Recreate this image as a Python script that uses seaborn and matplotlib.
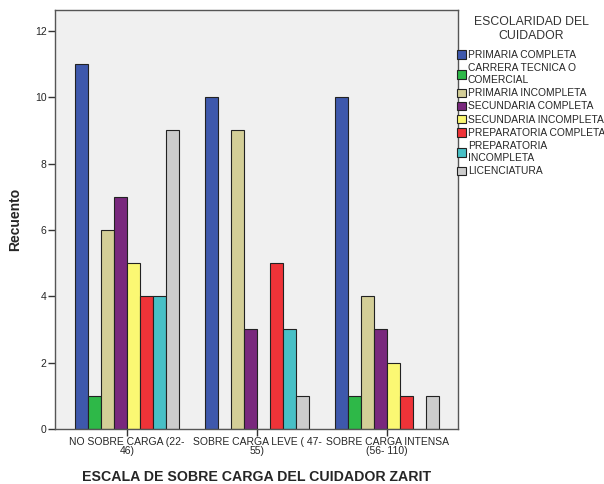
import pandas as pd
import seaborn as sns
import matplotlib.pyplot as plt

# categories of the Zarit scale (x axis)
grupos = ["NO SOBRE CARGA (22-\n46)", "SOBRE CARGA LEVE ( 47-\n55)",
          "SOBRE CARGA INTENSA\n(56- 110)"]

# schooling levels (hue)
escolaridad = ["PRIMARIA COMPLETA", "CARRERA TECNICA O\nCOMERCIAL",
               "PRIMARIA INCOMPLETA", "SECUNDARIA COMPLETA",
               "SECUNDARIA INCOMPLETA", "PREPARATORIA COMPLETA",
               "PREPARATORIA\nINCOMPLETA", "LICENCIATURA"]

# counts per group, one list per schooling level
primaria_completa = [11, 10, 10]
carrera_tecnica = [1, 0, 1]
primaria_incompleta = [6, 9, 4]
secundaria_completa = [7, 3, 3]
secundaria_incompleta = [5, 0, 2]
preparatoria_completa = [4, 5, 1]
preparatoria_incompleta = [4, 3, 0]
licenciatura = [9, 1, 1]

colores = ["#3E58AC", "#2EB848", "#D3CE97", "#79287D",
           "#FBF873", "#EF3338", "#48C0C6", "#CCCCCC"]

series = [primaria_completa, carrera_tecnica, primaria_incompleta,
          secundaria_completa, secundaria_incompleta, preparatoria_completa,
          preparatoria_incompleta, licenciatura]

rows = []
for nivel, vals in zip(escolaridad, series):
    for g, v in zip(grupos, vals):
        rows.append({"grupo": g, "nivel": nivel, "recuento": v})
df = pd.DataFrame(rows)

sns.set_style("white")
plt.rcParams['font.family'] = ['Liberation Sans', 'DejaVu Sans']

fig = plt.figure(figsize=(6.04, 4.84), dpi=100)
ax = fig.add_axes([55 / 604, 1 - 429 / 484, (458 - 55) / 604, (429 - 10) / 484])

sns.barplot(data=df, x="grupo", y="recuento", hue="nivel",
            order=grupos, hue_order=escolaridad, palette=colores,
            width=0.8, edgecolor="#222222", linewidth=0.8,
            saturation=1, ax=ax, legend=False)

ax.set_facecolor("#F0F0F0")
ax.set_xlim(-0.554, 2.546)
ax.set_ylim(0, 12.63)
ax.set_yticks([0, 2, 4, 6, 8, 10, 12])
for s in ax.spines.values():
    s.set_color("#555555")
    s.set_linewidth(1.0)
ax.tick_params(axis="both", direction="out", length=5, width=1,
               color="#333333", labelsize=7.5, pad=1,
               bottom=True, left=True)
for lab in ax.get_xticklabels():
    lab.set_linespacing(0.85)

ax.set_ylabel("Recuento", fontsize=10, fontweight="bold", labelpad=9)
ax.set_xlabel("ESCALA DE SOBRE CARGA DEL CUIDADOR ZARIT", fontsize=10.2,
              fontweight="bold", labelpad=10)

# legend title drawn separately, entries below it
fig.text(531 / 604, 1 - 29 / 484, "ESCOLARIDAD DEL\nCUIDADOR", ha="center",
         va="center", fontsize=8.8, color="#333333", linespacing=1.15,
         multialignment="center")
handles = [plt.Rectangle((0, 0), 1, 1, facecolor=c, edgecolor="#222222",
                         linewidth=0.8) for c in colores]
leg = fig.legend(handles, escolaridad,
                 loc="upper left", bbox_to_anchor=(457 / 604, 1 - 50 / 484),
                 frameon=False, fontsize=7.4,
                 handlelength=0.85, handleheight=0.85, handletextpad=0.2,
                 labelspacing=0.32, borderaxespad=0, borderpad=0)

fig.savefig("out.png", dpi=100, facecolor="white")
